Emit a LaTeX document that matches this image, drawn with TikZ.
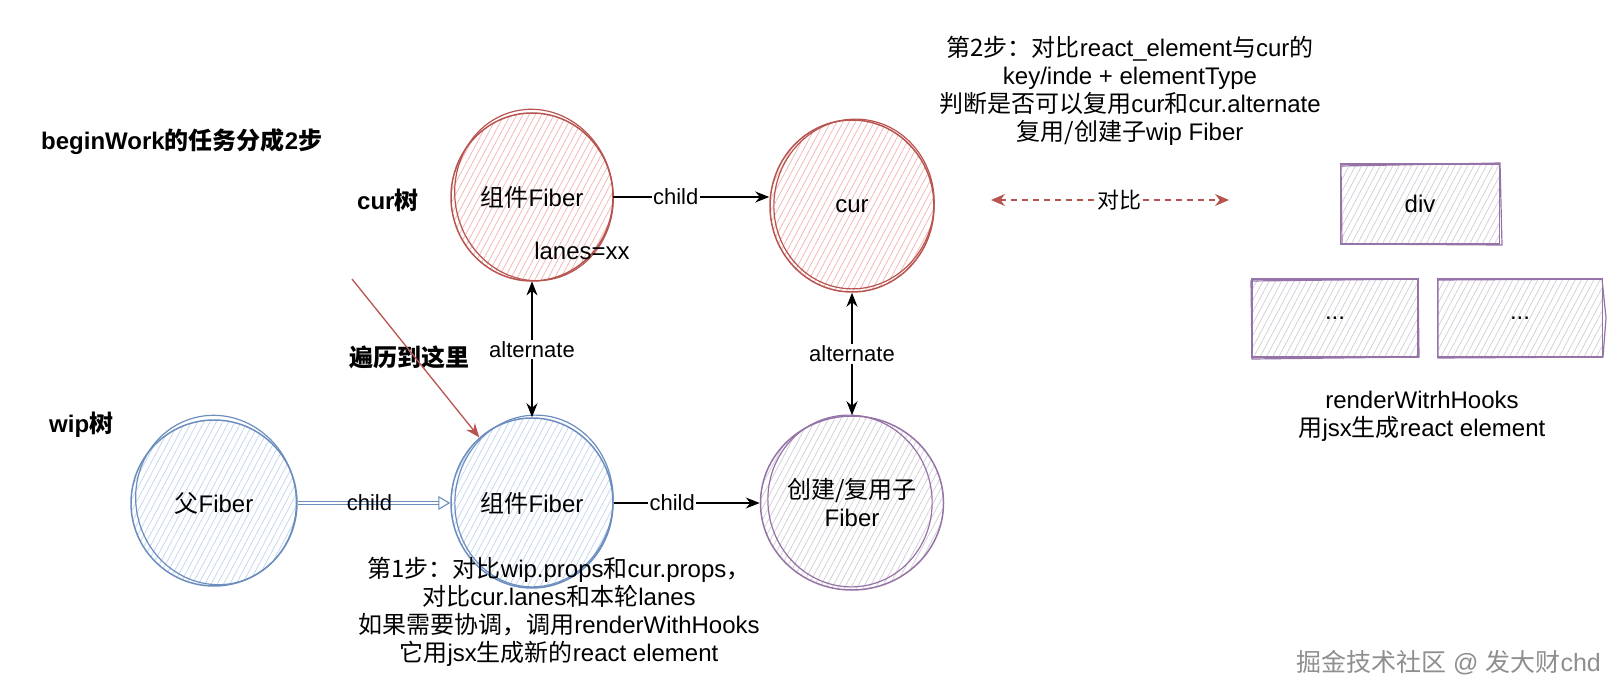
\documentclass[tikz,border=0pt]{standalone}
\usepackage{fontspec}
\setmainfont{Liberation Sans}
\newfontfamily\cjk{Noto Sans CJK SC}
\usetikzlibrary{shapes.geometric,arrows.meta,patterns.meta}
\newcommand\zh[1]{{\cjk #1}}
\definecolor{redS}{HTML}{B85450}
\definecolor{redF}{HTML}{F2B8B6}
\definecolor{blueS}{HTML}{6C8EBF}
\definecolor{blueF}{HTML}{C6D7EE}
\definecolor{purS}{HTML}{9673A6}
\definecolor{purF}{HTML}{D4D0D8}
\definecolor{wmgray}{HTML}{8E8E8E}
\tikzset{
  txt/.style={font=\fontsize{24}{27.8}\selectfont, align=center, inner sep=0pt},
  boldtxt/.style={font=\fontsize{24}{27}\selectfont\bfseries, inner sep=0pt, anchor=west},
  hach/.style={pattern={Lines[angle=62,distance=5.5pt,line width=0.8pt]}, pattern color=#1},
  fib/.style={ellipse, inner sep=0pt, line width=1.5pt, font=\fontsize{24}{28}\selectfont, align=center},
  redfib/.style={fib, draw=redS, hach=redF},
  bluefib/.style={fib, draw=blueS, hach=blueF},
  purfib/.style={fib, draw=purS, hach=purF},
  purbox/.style={rectangle, inner sep=0pt, line width=1.5pt, draw=purS, hach=purF, font=\fontsize{24}{28}\selectfont},
  rough/.style={draw=#1, line width=1.2pt},
  arr/.style={line width=1.3pt, -{Stealth[length=14pt,width=11pt]}},
  darr/.style={line width=1.3pt, {Stealth[length=14pt,width=11pt]}-{Stealth[length=14pt,width=11pt]}},
  redarr/.style={draw=redS, line width=1.3pt, -{Stealth[length=14pt,width=11pt]}},
  reddash/.style={draw=redS, line width=1.3pt, dash pattern=on 6pt off 5pt, {Stealth[length=14pt,width=12pt]}-{Stealth[length=14pt,width=12pt]}},
  bluearr/.style={draw=blueS, line width=1.1pt, double=white, double distance=1.4pt, -{Triangle[open,length=12pt,width=14pt]}},
  lbl/.style={fill=white, inner sep=1.5pt, font=\fontsize{22}{26}\selectfont},
}
\begin{document}
\begin{tikzpicture}[x=1pt,y=-1pt]
\useasboundingbox (0,0) rectangle (1622,700);

% left labels
\node[boldtxt] (title) at (41,142) {beginWork\zh{的任务分成}2\zh{步}};
\node[boldtxt] (curtree) at (357,200) {cur\zh{树}};
\node[boldtxt] (wiptree) at (49,425) {wip\zh{树}};
\node[boldtxt] (trav) at (349,357) {\zh{遍历到这里}};

% cur tree
\node[redfib, minimum width=162, minimum height=168] (C1) at (532,197) {\zh{组件}Fiber};
\draw[rough=redS, rotate around={12:(534,195)}] (534,195) ellipse [x radius=79, y radius=86];
\node[txt] (lanes) at (582,251) {lanes=xx};

\node[redfib, minimum width=164, minimum height=172] (C2) at (852,206) {cur};
\draw[rough=redS, rotate around={-10:(854,204)}] (854,204) ellipse [x radius=80, y radius=85];

% wip tree
\node[bluefib, minimum width=166, minimum height=166] (W1) at (214,503) {\zh{父}Fiber};
\draw[rough=blueS, rotate around={15:(216,500)}] (216,500) ellipse [x radius=80, y radius=85];

\node[bluefib, minimum width=162, minimum height=170] (W2) at (532,503) {\zh{组件}Fiber};
\draw[rough=blueS, rotate around={-8:(534,501)}] (534,501) ellipse [x radius=79, y radius=86];

\node[purfib, minimum width=166, minimum height=174] (W3) at (852,503) {\zh{创建/复用子}\\Fiber};
\draw[rough=purS, rotate around={10:(850,501)}] (850,501) ellipse [x radius=82, y radius=86];

% connectors
\draw[arr] (C1.east) -- (C1.east -| C2.west) node[pos=0.4, lbl] {child};
\draw[darr] (C1.south) -- (W2.north) node[midway, lbl] {alternate};
\draw[darr] (C2.south) -- (W3.north) node[midway, lbl] {alternate};
\draw[bluearr] (W1) -- (W2) node[pos=0.47, lbl, fill=none] {child};
\draw[arr] (W2) -- (W3) node[pos=0.4, lbl] {child};

\coordinate (rs) at (352,279);
\draw[redarr] (rs) -- (W2);

% step 2 text and compare arrow
\node[txt] (S2) at (1130,91) {\zh{第2步：对比}react\_element\zh{与}cur\zh{的}\\key/inde + elementType\\\zh{判断是否可以复用}cur\zh{和}cur.alternate\\\zh{复用/创建子}wip Fiber};

\coordinate (da) at (991,200);
\coordinate (db) at (1229,200);
\draw[reddash] (da) -- (db) node[pos=0.54, lbl] {\zh{对比}};

% element boxes
\node[purbox, minimum width=159, minimum height=80] (D) at (1420,204) {div};
\draw[rough=purS] (1341,166) -- (1500,163) -- (1502,245) -- (1342,244) -- cycle;
\node[purbox, minimum width=166, minimum height=78] (B1) at (1335,318) {...};
\draw[rough=purS] (1251,281) -- (1418,279) -- (1419,357) -- (1252,359) -- cycle;
\node[purbox, minimum width=165, minimum height=78] (B2) at (1520,318) {...};
\draw[rough=purS] (1438,280) -- (1602,279) -- (1606,318) -- (1603,357) -- (1438,358) -- cycle;

\node[txt] (R) at (1422,416) {renderWitrhHooks\\\zh{用}jsx\zh{生成}react element};

% step 1 text
\node[txt] (S1) at (559,612) {\zh{第1步：对比}wip.props\zh{和}cur.props\zh{，}\\\zh{对比}cur.lanes\zh{和本轮}lanes\\\zh{如果需要协调，调用}renderWithHooks\\\zh{它用}jsx\zh{生成新的}react element};

% watermark
\node[anchor=east, inner sep=0pt, text=wmgray, font=\fontsize{25}{28}\selectfont] (WM) at (1601,663) {\zh{掘金技术社区} @ \zh{发大财}chd};
\end{tikzpicture}
\end{document}
